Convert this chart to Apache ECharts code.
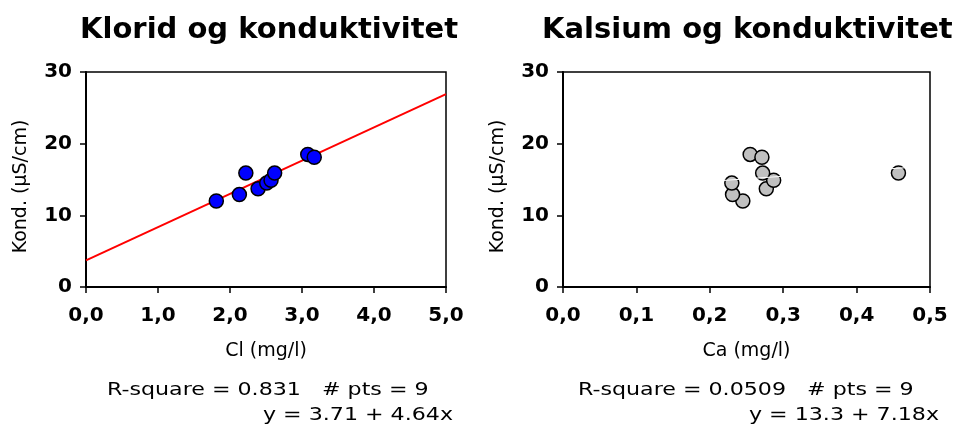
<!DOCTYPE html>
<html>
<head>
<meta charset="utf-8">
<script src="https://cdn.jsdelivr.net/npm/echarts@6/dist/echarts.min.js"></script>
<style>html,body{margin:0;padding:0;background:#fff}#c{width:964px;height:428px}</style>
</head>
<body>
<div id="c"></div>
<script>
// Data
const kond = [12.0, 12.9, 15.9, 13.7, 14.5, 14.9, 15.9, 18.5, 18.1];
const cl   = [1.81, 2.13, 2.22, 2.39, 2.51, 2.57, 2.62, 3.08, 3.17];
const ca   = [0.245, 0.231, 0.457, 0.277, 0.230, 0.287, 0.272, 0.255, 0.271];
// Fitted-line endpoints as drawn
const fitClLine = [[0, 3.71], [5, 26.91]];
const fitCaLine = [[0.01, 13.37], [0.495, 16.85]];
const titles = ['Klorid og konduktivitet', 'Kalsium og konduktivitet'];
const xNames = ['Cl (mg/l)', 'Ca (mg/l)'];
const yName = 'Kond. (\u00b5S/cm)';
const statsL = ['R-square = 0.831   # pts = 9', 'y = 3.71 + 4.64x'];
const statsR = ['R-square = 0.0509   # pts = 9', 'y = 13.3 + 7.18x'];

const ptsCl = cl.map((x, i) => [x, kond[i]]);
const ptsCa = ca.map((x, i) => [x, kond[i]]);

const FONT = 'DejaVu Sans';
const chart = echarts.init(document.getElementById('c'), null, {renderer: 'canvas'});

function xAxis(gi, max, interval, digits, name) {
  return {
    gridIndex: gi, type: 'value', min: 0, max: max, interval: interval,
    name: name, nameLocation: 'middle', nameGap: 55,
    nameTextStyle: {fontFamily: FONT, fontSize: 19, color: '#000'},
    axisLine: {show: true, onZero: false, lineStyle: {color: '#000', width: 2}},
    axisTick: {show: true, inside: false, length: 6, lineStyle: {color: '#000', width: 1.5}},
    axisLabel: {fontFamily: FONT, fontSize: 20, fontWeight: 'bold', color: '#000', margin: 19,
      formatter: v => v.toFixed(digits).replace('.', ',')},
    splitLine: {show: false}
  };
}
function yAxis(gi) {
  return {
    gridIndex: gi, type: 'value', min: 0, max: 30, interval: 10,
    name: yName, nameLocation: 'middle', nameGap: 55,
    nameTextStyle: {fontFamily: FONT, fontSize: 19, color: '#000', padding: [0, 14, 0, 0]},
    axisLine: {show: true, onZero: false, lineStyle: {color: '#000', width: 2}},
    axisTick: {show: true, inside: false, length: 6, lineStyle: {color: '#000', width: 1.5}},
    axisLabel: {fontFamily: FONT, fontSize: 20, fontWeight: 'bold', color: '#000', margin: 14},
    splitLine: {show: false}
  };
}
function stat(text, x, y, align) {
  return {type: 'text', x: x, y: y, scaleX: 1.23,
    style: {text: text, font: '18px "DejaVu Sans"', fill: '#000', align: align, verticalAlign: 'middle'}};
}

const option = {
  backgroundColor: '#fff',
  animation: false,
  title: [
    {text: titles[0], left: 75, top: 11, textStyle: {fontFamily: FONT, fontSize: 29, fontWeight: 'bold', color: '#000'}},
    {text: titles[1], left: 537, top: 11, textStyle: {fontFamily: FONT, fontSize: 29, fontWeight: 'bold', color: '#000'}}
  ],
  grid: [
    {left: 86, top: 72, width: 360, height: 215, show: true, borderColor: '#000', borderWidth: 1.5, backgroundColor: 'transparent'},
    {left: 563, top: 72, width: 367, height: 215, show: true, borderColor: '#000', borderWidth: 1.5, backgroundColor: 'transparent'}
  ],
  xAxis: [xAxis(0, 5, 1, 1, xNames[0]), xAxis(1, 0.5, 0.1, 1, xNames[1])],
  yAxis: [yAxis(0), yAxis(1)],
  series: [
    {type: 'line', xAxisIndex: 0, yAxisIndex: 0, data: fitClLine, showSymbol: false, symbol: 'none',
      lineStyle: {color: '#ff0000', width: 2}, z: 2},
    {type: 'scatter', xAxisIndex: 0, yAxisIndex: 0, data: ptsCl, symbol: 'circle', symbolSize: 14,
      itemStyle: {color: '#0000ff', borderColor: '#000', borderWidth: 1.5, opacity: 1}, z: 3},
    {type: 'scatter', xAxisIndex: 1, yAxisIndex: 1, data: ptsCa, symbol: 'circle', symbolSize: 14,
      itemStyle: {color: '#c0c0c0', borderColor: '#000', borderWidth: 1.5, opacity: 1}, z: 3},
    {type: 'line', xAxisIndex: 1, yAxisIndex: 1, data: fitCaLine, showSymbol: false, symbol: 'none',
      lineStyle: {color: '#ffffff', width: 1}, z: 4}
  ],
  graphic: [
    stat(statsL[0], 107, 390, 'left'),
    stat(statsL[1], 453, 415, 'right'),
    stat(statsR[0], 578, 390, 'left'),
    stat(statsR[1], 939, 415, 'right')
  ]
};
chart.setOption(option);
</script>
</body>
</html>
